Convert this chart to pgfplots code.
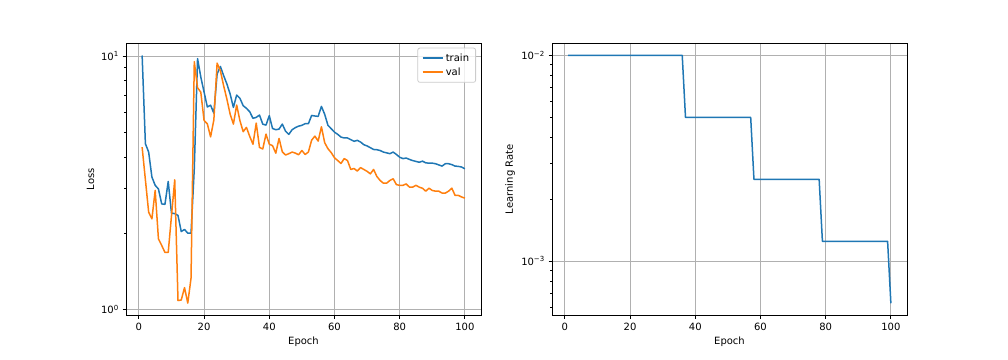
\documentclass[border=0pt]{standalone}
\usepackage{fontspec}
\setmainfont{DejaVu Sans}
\usepackage{pgfplots}
\pgfplotsset{compat=1.18}
\definecolor{tabblue}{HTML}{1F77B4}
\definecolor{taborange}{HTML}{FF7F0E}
\definecolor{gridgray}{HTML}{B0B0B0}
\definecolor{legedge}{HTML}{CCCCCC}
\newcommand{\mplfont}{\fontsize{10bp}{12bp}\selectfont}
\pgfplotsset{
 myax/.style={
  scale only axis, width=355bp, height=272.5bp,
  xmin=-3.95, xmax=104.95,
  xtick={0,20,40,60,80,100},
  tick align=outside, tick pos=left,
  major tick length=3.5bp, minor tick length=2bp,
  every tick/.append style={black, line width=0.8bp},
  every minor tick/.append style={black, line width=0.6bp},
  axis line style={line width=0.8bp},
  grid=major, major grid style={gridgray, line width=0.8bp},
  /pgf/number format/assume math mode=true,
  tick label style={font=\mplfont, inner sep=0pt},
  label style={font=\mplfont},
  xticklabel shift=3.5bp, yticklabel shift=3.5bp,
  xlabel=Epoch,
  xlabel style={at={(axis description cs:0.5,-0.077)}, anchor=north, inner sep=0pt},
  ylabel style={anchor=center, inner sep=0pt},
 }
}
\begin{document}
\begin{tikzpicture}
\path[use as bounding box] (0,0) rectangle (1008bp,360bp);
\begin{axis}[ymode=log, myax, at={(126bp,44.5bp)}, anchor=south west,
  ymin=0.947, ymax=11.26,
  ytick={1,10}, yticklabels={10\textsuperscript{0},10\textsuperscript{1}},
  minor ytick={2,3,4,5,6,7,8,9},
  ylabel=Loss, ylabel style={at={(axis description cs:-0.1,0.5)}},
  legend cell align=left,
  legend style={at={(1,1)}, anchor=north east, xshift=-5bp, yshift=-4.7bp,
    draw=legedge, line width=0.8bp, rounded corners=2bp, fill=white, fill opacity=0.8, text opacity=1,
    inner xsep=4bp, inner ysep=3bp, font=\mplfont, row sep=0bp,
    nodes={inner sep=2.5bp}},
  legend image code/.code={\draw[#1, line width=1.5bp] (0bp,0bp) -- (20bp,0bp);},
]
\addplot[tabblue, line width=1.5bp, line join=round] coordinates {
(1,10.05)(2,4.51)(3,4.18)(4,3.33)(5,3.09)(6,2.99)(7,2.61)(8,2.60)(9,3.20)(10,2.40)
(11,2.39)(12,2.35)(13,2.03)(14,2.07)(15,2.00)(16,2.00)(17,3.6)(18,9.77)(19,8.26)(20,7.21)
(21,6.3)(22,6.4)(23,5.95)(24,8.5)(25,9.1)(26,8.37)(27,7.76)(28,7.08)(29,6.27)(30,7.02)
(31,6.81)(32,6.37)(33,6.22)(34,6.03)(35,5.68)(36,5.73)(37,5.85)(38,5.39)(39,5.34)(40,5.82)
(41,5.18)(42,5.12)(43,5.15)(44,5.39)(45,5.05)(46,4.91)(47,5.12)(48,5.22)(49,5.29)(50,5.33)
(51,5.41)(52,5.41)(53,5.83)(54,5.80)(55,5.78)(56,6.33)(57,5.89)(58,5.33)(59,5.17)(60,5.01)
(61,4.91)(62,4.79)(63,4.75)(64,4.75)(65,4.68)(66,4.61)(67,4.65)(68,4.58)(69,4.47)(70,4.42)
(71,4.35)(72,4.28)(73,4.27)(74,4.24)(75,4.18)(76,4.15)(77,4.12)(78,4.18)(79,4.09)(80,3.99)
(81,3.94)(82,3.96)(83,3.91)(84,3.87)(85,3.84)(86,3.81)(87,3.85)(88,3.79)(89,3.78)(90,3.78)
(91,3.76)(92,3.72)(93,3.68)(94,3.76)(95,3.76)(96,3.73)(97,3.68)(98,3.67)(99,3.65)(100,3.59)
};
\addlegendentry{train}
\addplot[taborange, line width=1.5bp, line join=round] coordinates {
(1,4.37)(2,3.25)(3,2.42)(4,2.28)(5,2.95)(6,1.90)(7,1.79)(8,1.68)(9,1.68)(10,2.34)
(11,3.25)(12,1.085)(13,1.09)(14,1.22)(15,1.06)(16,1.33)(17,9.5)(18,7.5)(19,7.2)(20,5.57)
(21,5.4)(22,4.8)(23,5.6)(24,9.38)(25,8.75)(26,7.64)(27,6.76)(28,5.90)(29,5.39)(30,6.41)
(31,5.56)(32,5.03)(33,5.23)(34,4.82)(35,4.49)(36,5.44)(37,4.36)(38,4.30)(39,4.92)(40,4.49)
(41,4.43)(42,4.14)(43,4.73)(44,4.19)(45,4.07)(46,4.12)(47,4.18)(48,4.14)(49,4.08)(50,4.24)
(51,4.09)(52,4.18)(53,4.66)(54,4.83)(55,4.62)(56,5.26)(57,4.55)(58,4.31)(59,4.16)(60,3.97)
(61,3.87)(62,3.77)(63,3.94)(64,3.87)(65,3.57)(66,3.60)(67,3.52)(68,3.63)(69,3.57)(70,3.51)
(71,3.43)(72,3.57)(73,3.35)(74,3.23)(75,3.15)(76,3.15)(77,3.23)(78,3.28)(79,3.11)(80,3.09)
(81,3.09)(82,3.13)(83,3.04)(84,3.04)(85,3.09)(86,3.04)(87,3.01)(88,2.93)(89,3.01)(90,2.95)
(91,2.93)(92,2.93)(93,2.88)(94,2.88)(95,2.93)(96,3.01)(97,2.82)(98,2.82)(99,2.78)(100,2.75)
};
\addlegendentry{val}
\end{axis}
\begin{axis}[ymode=log, myax, at={(552bp,44.5bp)}, anchor=south west,
  ymin=0.000545, ymax=0.01148,
  ytick={0.001,0.01}, yticklabels={10\textsuperscript{−3},10\textsuperscript{−2}},
  minor ytick={0.0006,0.0007,0.0008,0.0009,0.002,0.003,0.004,0.005,0.006,0.007,0.008,0.009},
  ylabel=Learning Rate, ylabel style={at={(axis description cs:-0.1183,0.5)}},
]
\addplot[tabblue, line width=1.5bp, line join=round] coordinates {
(1,0.01)(36,0.01)(37,0.005)(57,0.005)(58,0.0025)(78,0.0025)(79,0.00125)(99,0.00125)(100,0.000625)
};
\end{axis}
\end{tikzpicture}
\end{document}
